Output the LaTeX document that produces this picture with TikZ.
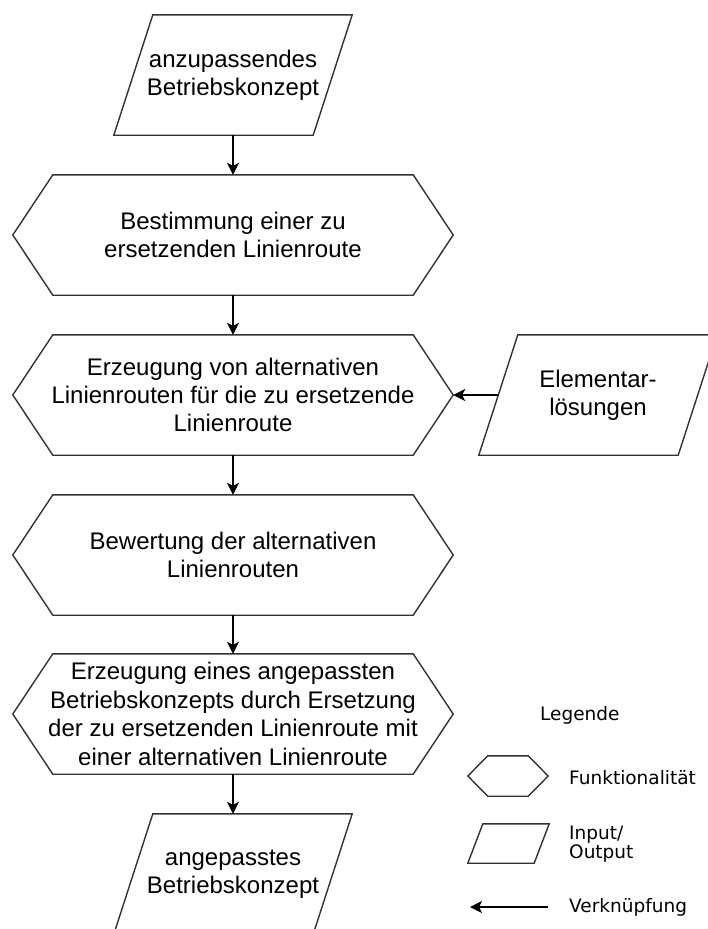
\documentclass[tikz,border=0pt]{standalone}
\usepackage{fontspec}
\setmainfont{Liberation Sans}
\newfontfamily\legendfont{DejaVu Sans}
\usetikzlibrary{calc,arrows.meta}

% outline of a function box (hexagon) around a node; #2 = depth of the side points
\newcommand\hexoutline[2]{%
  \draw[outline] ($(#1.north west)+(#2,0)$) -- ($(#1.north east)+(-#2,0)$) -- (#1.east)
    -- ($(#1.south east)+(-#2,0)$) -- ($(#1.south west)+(#2,0)$) -- (#1.west) -- cycle;}
% outline of an input/output box (parallelogram); #2 = half of the horizontal slant
\newcommand\iooutline[2]{%
  \draw[outline] ($(#1.north west)+(#2,0)$) -- ($(#1.north east)+(#2,0)$)
    -- ($(#1.south east)+(-#2,0)$) -- ($(#1.south west)+(-#2,0)$) -- cycle;}

\begin{document}
\begin{tikzpicture}[x=1pt,y=-1pt,
  outline/.style={draw=black!80, line width=1.4pt, line join=miter},
  flowtext/.style={font=\fontsize{24}{28.4}\selectfont, align=center, inner sep=0pt},
  hexbox/.style={flowtext, minimum width=440pt, minimum height=120pt},
  iobox/.style={flowtext, minimum width=199pt, minimum height=120pt},
  link/.style={draw=black, line width=1.4pt, -{Stealth[length=12pt,width=12pt,inset=3pt]}},
  legtext/.style={font=\legendfont\fontsize{18.5}{18.5}\selectfont, align=left, anchor=west, inner sep=0pt}
]
\useasboundingbox (0,0) rectangle (708,929);
\fill[white] (0,0) rectangle (708,929);

% main column
\node[iobox]  (in)   at (233,75)  {anzupassendes\\Betriebskonzept};
\node[hexbox] (bst)  at (233,235) {Bestimmung einer zu\\ersetzenden Linienroute};
\node[hexbox] (erz)  at (233,395) {Erzeugung von alternativen\\Linienrouten für die zu ersetzende\\Linienroute};
\node[hexbox] (bew)  at (233,555) {Bewertung der alternativen\\Linienrouten};
\node[hexbox] (ang)  at (233,714) {Erzeugung eines angepassten\\Betriebskonzepts durch Ersetzung\\der zu ersetzenden Linienroute mit\\einer alternativen Linienroute};
\node[iobox]  (out)  at (233,874) {angepasstes\\Betriebskonzept};
\node[iobox]  (elem) at (598,395) {Elementar-\\lösungen};

\iooutline{in}{19.5}
\hexoutline{bst}{40}
\hexoutline{erz}{40}
\hexoutline{bew}{40}
\hexoutline{ang}{40}
\iooutline{out}{19.5}
\iooutline{elem}{19.5}

\draw[link] (in.south)  -- (bst.north);
\draw[link] (bst.south) -- (erz.north);
\draw[link] (erz.south) -- (bew.north);
\draw[link] (bew.south) -- (ang.north);
\draw[link] (ang.south) -- (out.north);
\draw[link] (elem.west) -- (erz.east);

% legend
\node[legtext] (leg) at (540,715) {Legende};
\node[minimum width=80pt, minimum height=40pt, inner sep=0pt] (lhex) at (508,776) {};
\hexoutline{lhex}{20}
\node[legtext] (lfun) at (569,778) {Funktionalität};
\node[minimum width=66pt, minimum height=39pt, inner sep=0pt] (lio) at (508.5,843.5) {};
\iooutline{lio}{7.5}
\node[legtext] (lioT) at (569,844) {Input/\\Output};
\coordinate (la) at (548,907);
\coordinate (lb) at (470,907);
\draw[link] (la) -- (lb);
\node[legtext] (lver) at (569,907) {Verknüpfung};
\end{tikzpicture}
\end{document}
